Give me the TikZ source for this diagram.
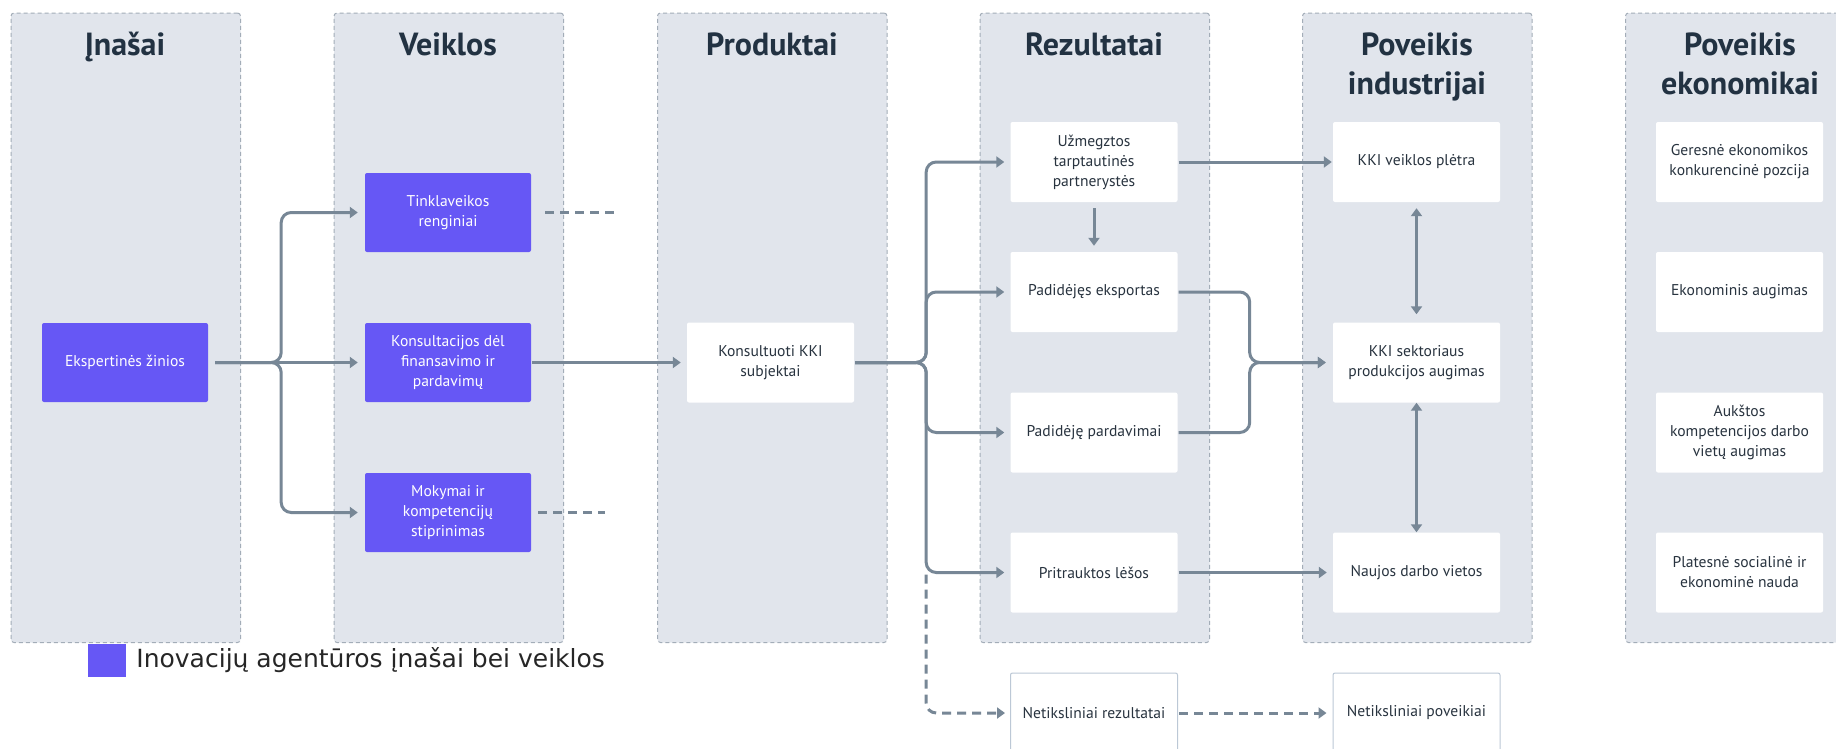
\documentclass[tikz,border=0pt]{standalone}
\usepackage{fontspec}
\setmainfont{PT Sans}
\newfontfamily\legendfont{DejaVu Sans}
\usetikzlibrary{arrows.meta,calc}
\definecolor{colbg}{HTML}{E1E5EC}
\definecolor{colborder}{HTML}{A3ADB8}
\definecolor{purp}{HTML}{6657F5}
\definecolor{conn}{HTML}{778796}
\definecolor{txt}{HTML}{28333F}
\definecolor{ttl}{HTML}{223242}
\definecolor{netb}{HTML}{BCC8D6}
\begin{document}
\begin{tikzpicture}[x=1pt,y=-1pt,
  lane/.style={draw=colborder, dash pattern=on 4pt off 3pt, line width=1pt, fill=colbg, rounded corners=3pt, minimum width=229.5pt, minimum height=629.5pt, anchor=north west, inner sep=0pt},
  ttlstyle/.style={font=\fontsize{32}{39}\selectfont\bfseries, text=ttl, align=center, anchor=base, inner sep=0pt},
  pbox/.style={fill=purp, text=white, minimum width=166pt, minimum height=79pt, align=center, font=\fontsize{15.6}{20}\selectfont, rounded corners=2pt, inner sep=0pt},
  wbox/.style={fill=white, text=txt, minimum width=167pt, minimum height=80pt, align=center, font=\fontsize{15.6}{20}\selectfont, rounded corners=2pt, inner sep=0pt},
  nbox/.style={wbox, draw=netb, line width=1pt},
  arr/.style={draw=conn, line width=3pt, rounded corners=10pt, -{Triangle[length=8pt,width=11pt]}},
  darr/.style={arr, dash pattern=on 9pt off 6pt},
  dline/.style={draw=conn, line width=3pt, dash pattern=on 9pt off 6pt},
  biarr/.style={draw=conn, line width=3pt, {Triangle[length=8pt,width=11pt]}-{Triangle[length=8pt,width=11pt]}}
]
\clip (0,0) rectangle (1836,748);
\fill[white] (0,0) rectangle (1836,748);

% lanes
\node[lane] (l1) at (10.5,12.5) {};
\node[lane] (l2) at (333.5,12.5) {};
\node[lane] (l3) at (657,12.5) {};
\node[lane] (l4) at (979.5,12.5) {};
\node[lane] (l5) at (1302,12.5) {};
\node[lane] (l6) at (1625,12.5) {};

% titles
\node[ttlstyle] (t1) at (125,55) {Įnašai};
\node[ttlstyle] (t2) at (448,55) {Veiklos};
\node[ttlstyle] (t3) at (772,55) {Produktai};
\node[ttlstyle] (t4) at (1094,55) {Rezultatai};
\node[ttlstyle] (t5) at (1417,94) {Poveikis\\industrijai};
\node[ttlstyle] (t6) at (1740,94) {Poveikis\\ekonomikai};

% boxes
\node[pbox] (ek) at (125,362.5) {Ekspertinės žinios};
\node[pbox] (tk) at (448,212.5) {Tinklaveikos\\renginiai};
\node[pbox] (ko) at (448,362.5) {Konsultacijos dėl\\finansavimo ir\\pardavimų};
\node[pbox] (mo) at (448,512.5) {Mokymai ir\\kompetencijų\\stiprinimas};

\node[wbox] (kk) at (770.5,362.5) {Konsultuoti KKI\\subjektai};

\node[wbox] (uz) at (1094,162) {Užmegztos\\tarptautinės\\partnerystės};
\node[wbox] (pe) at (1094,292) {Padidėjęs eksportas};
\node[wbox] (pp) at (1094,432.5) {Padidėję pardavimai};
\node[wbox] (pl) at (1094,572.5) {Pritrauktos lėšos};

\node[wbox] (kv) at (1416.5,162) {KKI veiklos plėtra};
\node[wbox] (ks) at (1416.5,362.5) {KKI sektoriaus\\produkcijos augimas};
\node[wbox] (nd) at (1416.5,572.5) {Naujos darbo vietos};

\node[wbox] (ge) at (1739.5,162) {Geresnė ekonomikos\\konkurencinė pozcija};
\node[wbox] (ea) at (1739.5,292) {Ekonominis augimas};
\node[wbox] (ak) at (1739.5,432.5) {Aukštos\\kompetencijos darbo\\vietų augimas};
\node[wbox] (ps) at (1739.5,572.5) {Platesnė socialinė ir\\ekonominė nauda};

\node[nbox] (nr) at (1094,713) {Netiksliniai rezultatai};
\node[nbox] (np) at (1416.5,713) {Netiksliniai poveikiai};

% legend
\node[fill=purp, minimum width=38pt, minimum height=33pt, inner sep=0pt] (lg) at (107,660.5) {};
\node[anchor=west, font=\legendfont\fontsize{25}{28}\selectfont, text=black!85, inner sep=0pt] (lgt) at ([xshift=10pt]lg.east) {Inovacijų agentūros įnašai bei veiklos};

% connectors: inputs -> activities
\draw[arr] ([xshift=7pt]ek.east) -- ++(66,0) |- ([xshift=-7pt]tk.west);
\draw[arr] ([xshift=7pt]ek.east) -- ([xshift=-7pt]ko.west);
\draw[arr] ([xshift=7pt]ek.east) -- ++(66,0) |- ([xshift=-7pt]mo.west);

\coordinate (tkend) at (615,212.5);
\coordinate (moend) at (605,512.5);
\draw[dline] ([xshift=14pt]tk.east) -- (tkend);
\draw[dline] ([xshift=7pt]mo.east) -- (moend);

\draw[arr] ([xshift=1pt]ko.east) -- ([xshift=-6pt]kk.west);

% product -> results
\draw[arr] ([xshift=1pt]kk.east) -- ++(71,0) |- ([xshift=-6pt]uz.west);
\draw[arr] ([xshift=1pt]kk.east) -- ++(71,0) |- ([xshift=-6pt]pe.west);
\draw[arr] ([xshift=1pt]kk.east) -- ++(71,0) |- ([xshift=-6pt]pp.west);
\draw[arr] ([xshift=1pt]kk.east) -- ++(71,0) |- ([xshift=-6pt]pl.west);
\coordinate (dstart) at ($(kk.east)+(72,212)$);
\draw[darr] (dstart) |- ([xshift=-5pt]nr.west);

\draw[arr] ([yshift=-6pt]uz.south) -- ([yshift=6pt]pe.north);

% results -> industry
\draw[arr] ([xshift=1pt]uz.east) -- ([xshift=-1pt]kv.west);
\draw[arr] ([xshift=1pt]pe.east) -- ++(71,0) |- ([xshift=-7pt]ks.west);
\draw[arr] ([xshift=1pt]pp.east) -- ++(71,0) |- ([xshift=-7pt]ks.west);
\draw[arr] ([xshift=1pt]pl.east) -- ([xshift=-6pt]nd.west);
\draw[darr] ([xshift=1pt]nr.east) -- ([xshift=-6pt]np.west);

\draw[biarr] ([yshift=-6pt]kv.south) -- ([yshift=8pt]ks.north);
\draw[biarr] (ks.south) -- (nd.north);
\end{tikzpicture}
\end{document}
